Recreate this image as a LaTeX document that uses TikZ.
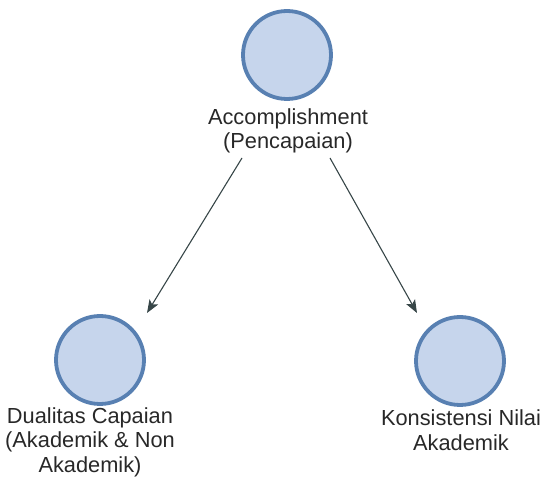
\documentclass[tikz,border=0pt]{standalone}
\usepackage{fontspec}
\setmainfont{Liberation Sans}
\usetikzlibrary{arrows.meta}
\definecolor{cfill}{RGB}{198,213,236}
\definecolor{cborder}{RGB}{88,128,178}
\definecolor{carrow}{RGB}{55,70,72}
\definecolor{ctext}{RGB}{40,40,40}
\tikzset{
  bubble/.style={circle, draw=cborder, fill=cfill, line width=3.8pt, minimum size=88pt, inner sep=0pt},
  caption/.style={align=center, text=ctext, font=\fontsize{21.8}{24.5}\selectfont, inner sep=0pt},
  link/.style={draw=carrow, line width=1.1pt, -{Stealth[length=13pt,width=10pt,inset=3pt]}}
}
\begin{document}
\begin{tikzpicture}[x=1pt,y=1pt]
\useasboundingbox (0,0) rectangle (542,480);
\node[bubble] (top) at (287,425) {};
\node[caption] (toplbl) at (288,349) {Accomplishment\\(Pencapaian)};
\node[bubble] (left) at (100,120) {};
\node[caption] (leftlbl) at (90,38) {Dualitas Capaian\\(Akademik \& Non\\Akademik)};
\node[bubble] (right) at (460,119) {};
\node[caption] (rightlbl) at (461,50) {Konsistensi Nilai\\Akademik};
\coordinate (l1) at (242,322);
\coordinate (l2) at (147,167);
\coordinate (r1) at (330,322);
\coordinate (r2) at (417,167);
\draw[link] (l1) -- (l2);
\draw[link] (r1) -- (r2);
\end{tikzpicture}
\end{document}
